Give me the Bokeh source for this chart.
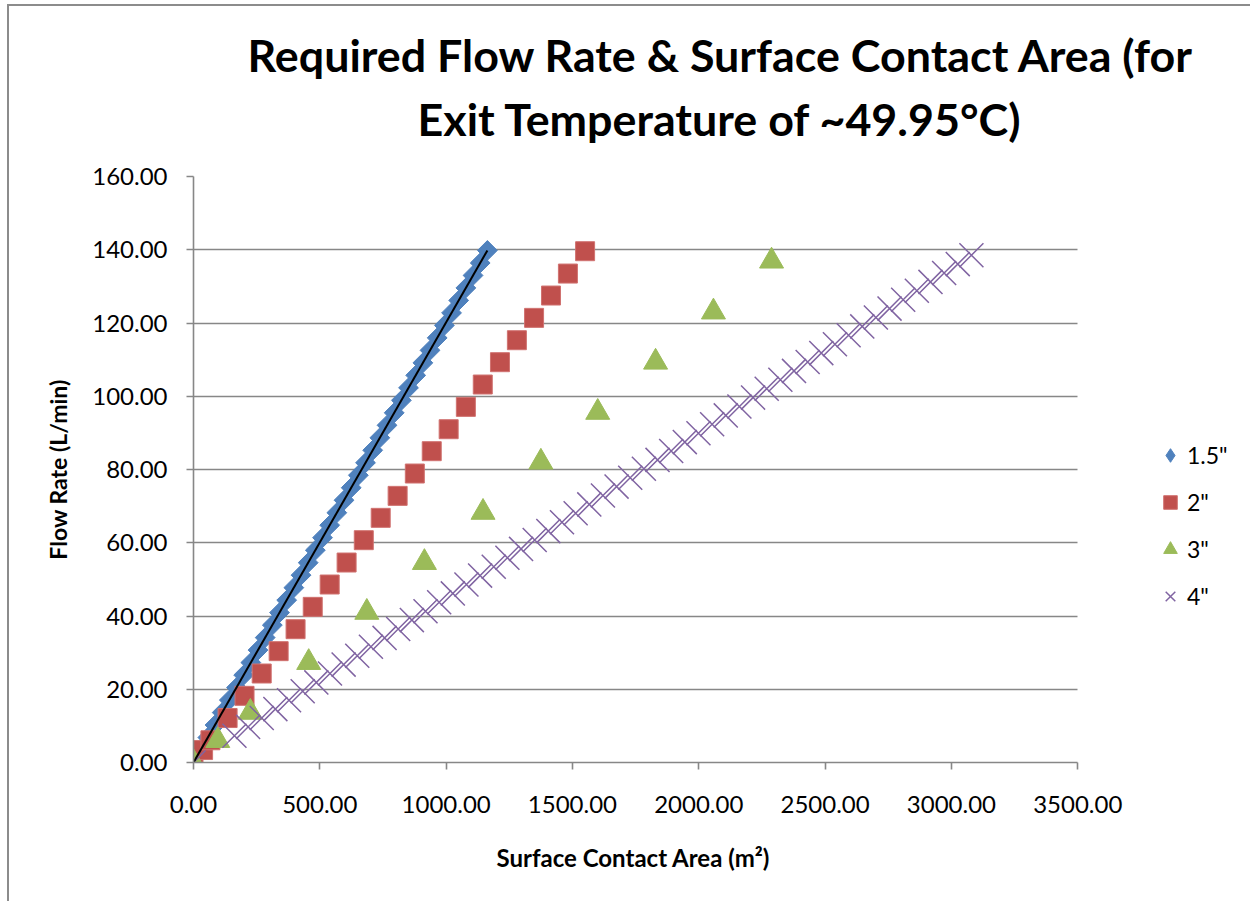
import numpy as np
from bokeh.plotting import figure
from bokeh.models import (Range1d, SingleIntervalTicker, NumeralTickFormatter, Title,
                          Legend, LegendItem)
from bokeh.embed import file_html
from bokeh.resources import INLINE

# ---- data ----
area_15 = [0, 28.4, 56.7, 85.1, 113.5, 141.9, 170.2, 198.6, 227.0, 255.3, 283.7, 312.1,
           340.5, 368.8, 397.2, 425.6, 453.9, 482.3, 510.7, 539.1, 567.4, 595.8, 624.2,
           652.5, 680.9, 709.3, 737.6, 766.0, 794.4, 822.8, 851.1, 879.5, 907.9, 936.2,
           964.6, 993.0, 1021.4, 1049.7, 1078.1, 1106.5, 1134.8, 1163.2]
flow_15 = [0, 3.41, 6.82, 10.23, 13.64, 17.05, 20.46, 23.87, 27.28, 30.69, 34.10, 37.51,
           40.92, 44.33, 47.74, 51.15, 54.56, 57.97, 61.38, 64.79, 68.20, 71.61, 75.02,
           78.43, 81.84, 85.25, 88.66, 92.07, 95.48, 98.89, 102.30, 105.71, 109.12, 112.53,
           115.94, 119.35, 122.76, 126.17, 129.58, 132.99, 136.40, 139.81]

area_2 = [0, 38, 67, 135, 202, 270, 337, 404, 472, 539, 606, 674, 741, 808, 876, 943,
          1010, 1078, 1145, 1213, 1280, 1348, 1415, 1482, 1550]
flow_2 = [0, 3.4, 6.07, 12.14, 18.2, 24.3, 30.4, 36.4, 42.5, 48.6, 54.6, 60.7, 66.8,
          72.8, 78.9, 85.0, 91.0, 97.1, 103.2, 109.3, 115.3, 121.4, 127.5, 133.5, 139.6]

area_3 = [0, 96, 225, 456, 686, 914, 1146, 1375, 1600, 1829, 2058, 2288]
flow_3 = [0, 6.0, 13.7, 27.3, 41.0, 54.6, 68.3, 82.0, 95.6, 109.3, 123.0, 136.9]

area_4 = [0, 162.1, 216.1, 270.1, 324.1, 378.1, 432.2, 486.2, 540.2, 594.2, 648.2, 702.3,
          756.3, 810.3, 864.3, 918.3, 972.4, 1026.4, 1080.4, 1134.4, 1188.4, 1242.5,
          1296.5, 1350.5, 1404.5, 1458.5, 1512.6, 1566.6, 1620.6, 1674.6, 1728.6, 1782.7,
          1836.7, 1890.7, 1944.7, 1998.7, 2052.8, 2106.8, 2160.8, 2214.8, 2268.8, 2322.9,
          2376.9, 2430.9, 2484.9, 2538.9, 2593.0, 2647.0, 2701.0, 2755.0, 2809.0, 2863.1,
          2917.1, 2971.1, 3025.1, 3079.1]
flow_4 = [0, 7.29, 9.72, 12.15, 14.58, 17.01, 19.44, 21.87, 24.30, 26.73, 29.16, 31.59,
          34.02, 36.45, 38.88, 41.31, 43.74, 46.17, 48.60, 51.03, 53.46, 55.89, 58.32,
          60.75, 63.18, 65.61, 68.04, 70.47, 72.90, 75.33, 77.76, 80.19, 82.62, 85.05,
          87.48, 89.91, 92.34, 94.77, 97.20, 99.63, 102.06, 104.49, 106.92, 109.35,
          111.78, 114.21, 116.64, 119.07, 121.50, 123.93, 126.36, 128.79, 131.22,
          133.65, 136.08, 138.51]

series_names = ['1.5"', '2"', '3"', '4"']
title_lines = ["Required Flow Rate & Surface Contact Area (for",
               "Exit Temperature of ~49.95°C)"]
x_label = "Surface Contact Area (m²)"
y_label = "Flow Rate (L/min)"
x_axis_max = 3500
y_axis_max = 160

# ---- figure ----
GRID = "#878787"
FONT = "Lato"
BLUE, RED, GREEN, PURPLE = "#4F81BD", "#C0504D", "#9BBB59", "#8064A2"

# the frame extends to the right of the x axis end so the legend sits inside it
p = figure(width=1243, height=897, output_backend="svg", toolbar_location=None,
           title=None,
           x_range=Range1d(0, 4160), y_range=Range1d(0, y_axis_max),
           min_border_left=184, min_border_right=8, min_border_top=170,
           min_border_bottom=141)
p.styles = {"margin-left": "7px", "margin-top": "4px",
            "border-left": "2px solid #8c8c8c", "border-top": "2px solid #8c8c8c"}
p.outline_line_color = None
p.background_fill_color = "white"
p.border_fill_color = "white"

p.xgrid.visible = False
p.ygrid.grid_line_color = GRID
p.ygrid.grid_line_width = 1.6
p.ygrid.cross_bounds = (0, x_axis_max)

p.xaxis.ticker = SingleIntervalTicker(interval=500)
p.yaxis.ticker = SingleIntervalTicker(interval=20)
p.xaxis.bounds = (0, x_axis_max)
for ax in (p.xaxis, p.yaxis):
    ax.formatter = NumeralTickFormatter(format="0.00")
    ax.axis_line_color = GRID
    ax.axis_line_width = 1.6
    ax.major_tick_line_color = GRID
    ax.major_tick_line_width = 1.6
    ax.major_tick_out = 7
    ax.major_tick_in = 0
    ax.minor_tick_line_color = None
    ax.major_label_text_font = FONT
    ax.major_label_text_font_size = "24px"
    ax.major_label_text_color = "black"
    ax.axis_label_text_font = FONT
    ax.axis_label_text_font_style = "bold"
    ax.axis_label_text_font_size = "23px"
    ax.axis_label_text_color = "black"

p.yaxis.axis_label = y_label
p.xaxis.major_label_standoff = 26
p.yaxis.major_label_standoff = 19
p.yaxis.axis_label_standoff = 17

# x axis title, centred under the axis (the frame is wider than the axis)
p.add_layout(Title(text=x_label, align="left", offset=303, text_font=FONT,
                   text_font_style="bold", text_font_size="24px", text_color="black",
                   standoff=50), "below")

r15 = p.scatter(area_15, flow_15, marker="square", angle=np.pi / 4, size=14,
                fill_color=BLUE, line_color=BLUE)
r2 = p.scatter(area_2, flow_2, marker="square", size=19,
               fill_color=RED, line_color="#D07270", line_width=1)
r3 = p.scatter(area_3, flow_3, marker="triangle", size=24,
               fill_color=GREEN, line_color=GREEN)
r4 = p.scatter(area_4, flow_4, marker="x", size=34, line_color=PURPLE, line_width=1.5)

# hidden diamond renderer of the 1.5" series, used only for its legend swatch
r15_key = p.scatter(area_15, flow_15, marker="diamond", size=20,
                    fill_color=BLUE, line_color=BLUE, visible=False)

# linear trendline fitted to the 1.5" series
slope, intercept = np.polyfit(area_15, flow_15, 1)
tx = [0, max(area_15)]
p.line(tx, [intercept + slope * v for v in tx], line_color="black", line_width=2)

legend = Legend(items=[LegendItem(label=n, renderers=[r]) for n, r in
                       zip(series_names, [r15_key, r2, r3, r4])],
                location=(960, 146), border_line_color=None, background_fill_alpha=0,
                padding=0, margin=0, spacing=7, glyph_width=34, glyph_height=40,
                label_standoff=0, label_text_font=FONT, label_text_font_size="23px",
                label_text_color="black", inactive_fill_alpha=0)
p.add_layout(legend)

# spacer between the frame and the two title lines
p.add_layout(Title(text=" ", text_font_size="1px", standoff=24), "above")
for txt, off in [(title_lines[1], 224), (title_lines[0], 54)]:
    p.add_layout(Title(text=txt, align="left", offset=off, text_font=FONT,
                       text_font_style="bold", text_font_size="44.8px",
                       text_color="black", standoff=8), "above")

open("out.html", "w").write(file_html(p, INLINE))
